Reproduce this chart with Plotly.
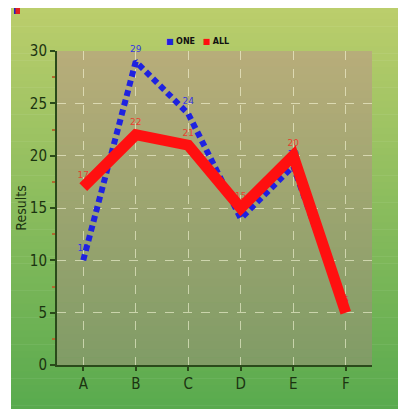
import plotly.graph_objects as go

categories = ["A", "B", "C", "D", "E", "F"]
one_values = [10, 29, 24, 14, 19, 5]
all_values = [17, 22, 21, 15, 20, 5]
y_ticks = [0, 5, 10, 15, 20, 25, 30]
series_names = ["ONE", "ALL"]
series_colors = ["#1f22e0", "#ff1010"]
label_colors = ["#3535e0", "#e84030"]

OFF = 8  # browser body margin
W, H = 406 - OFF, 409 - OFF
L, R, T, B = 57 - OFF, 406 - 372, 51 - OFF, 409 - 365
pw, ph = W - L - R, H - T - B

def px_x(px):  # page px -> paper
    return (px - OFF - L) / pw

def px_y(py):
    return (H - B - (py - OFF)) / ph

def lerp(c1, c2, t):
    return "rgb(%d,%d,%d)" % tuple(round(a + (b - a) * t) for a, b in zip(c1, c2))

shapes = []
# outer gradient background
top_c, bot_c = (188, 206, 108), (88, 170, 78)
n = 60
y0p, y1p = 6, 412
for i in range(n):
    a = y0p + (y1p - y0p) * i / n
    b = y0p + (y1p - y0p) * (i + 1) / n
    shapes.append(dict(type="rect", xref="paper", yref="paper",
                       x0=px_x(11), x1=px_x(410), y0=px_y(b + 0.5), y1=px_y(a),
                       fillcolor=lerp(top_c, bot_c, (i + 0.5) / n),
                       line=dict(width=0), layer="below"))
# plot area overlay gradient
ptop, pbot = (184, 173, 122), (128, 156, 102)
m = 40
for i in range(m):
    a = i / m
    b = (i + 1) / m
    shapes.append(dict(type="rect", xref="paper", yref="paper",
                       x0=0, x1=1, y0=1 - b - 0.002, y1=1 - a,
                       fillcolor=lerp(ptop, pbot, (i + 0.5) / m),
                       line=dict(width=0), layer="below"))
# small icon top-left
shapes.append(dict(type="rect", xref="paper", yref="paper",
                   x0=px_x(14), x1=px_x(20), y0=px_y(14), y1=px_y(8),
                   fillcolor="#e02020", line=dict(width=0), layer="above"))
shapes.append(dict(type="rect", xref="paper", yref="paper",
                   x0=px_x(14), x1=px_x(15.5), y0=px_y(14), y1=px_y(8),
                   fillcolor="#2020c0", line=dict(width=0), layer="above"))

label_font = "Verdana, DejaVu Sans, sans-serif"
tick_font = "DejaVu Sans Condensed, Liberation Sans Narrow, Roboto Condensed, sans-serif"

fig = go.Figure()
series_values = [one_values, all_values]
# value labels first (so the lines are drawn over them)
for vals, nm, lc in zip(series_values, series_names, label_colors):
    fig.add_trace(go.Scatter(
        x=categories, y=vals, mode="markers+text", name=nm + " labels", showlegend=False,
        marker=dict(size=10, color="rgba(0,0,0,0)"),
        text=[str(v) for v in vals], textposition="top center",
        textfont=dict(color=lc, size=9, family=label_font),
        hoverinfo="skip", cliponaxis=False,
    ))
fig.add_trace(go.Scatter(
    x=categories, y=one_values, mode="lines", name=series_names[0],
    line=dict(color=series_colors[0], width=6, dash="6px,4px"),
))
fig.add_trace(go.Scatter(
    x=categories, y=all_values, mode="lines", name=series_names[1],
    line=dict(color=series_colors[1], width=11),
))

legend_text = "&nbsp;&nbsp;&nbsp;".join(
    "<span style='color:%s'>■</span>&nbsp;<b>%s</b>" % (c, nm) for nm, c in zip(series_names, series_colors)
)

fig.update_layout(
    width=W, height=H,
    margin=dict(l=L, r=R, t=T, b=B),
    paper_bgcolor="white",
    plot_bgcolor="rgba(0,0,0,0)",
    shapes=shapes,
    showlegend=False,
    annotations=[dict(text=legend_text, xref="paper", yref="paper",
                      x=px_x(197), y=px_y(41), xanchor="center", yanchor="middle",
                      showarrow=False,
                      font=dict(size=8, family="Verdana, DejaVu Sans, sans-serif", color="#111"))],
    xaxis=dict(
        type="category", categoryorder="array", categoryarray=categories,
        range=[-0.5, 5.5],
        showline=True, linecolor="#2a4a1a", linewidth=2,
        ticks="outside", ticklen=4, tickcolor="#2a4a1a", tickwidth=2,
        showgrid=True, gridcolor="rgba(255,255,225,0.55)", griddash="dash", gridwidth=1,
        tickfont=dict(size=15, family=tick_font, color="#1b3310"),
        zeroline=False,
    ),
    yaxis=dict(
        range=[0, 30], tickvals=y_ticks, ticktext=[str(v) for v in y_ticks],
        showline=True, linecolor="#2a4a1a", linewidth=2,
        ticks="outside", ticklen=5, tickcolor="#2a4a1a", tickwidth=2,
        minor=dict(tickvals=[2.5, 7.5, 12.5, 17.5, 22.5, 27.5], ticks="outside",
                   ticklen=3, tickcolor="#b06a30", tickwidth=2, showgrid=False),
        showgrid=True, gridcolor="rgba(255,255,225,0.55)", griddash="dash", gridwidth=1,
        tickfont=dict(size=15, family=tick_font, color="#1b3310"),
        title=dict(text="Results", font=dict(size=14, family=tick_font, color="#1b3310"),
                   standoff=0),
        zeroline=False,
    ),
)

fig.write_html("out.html")
